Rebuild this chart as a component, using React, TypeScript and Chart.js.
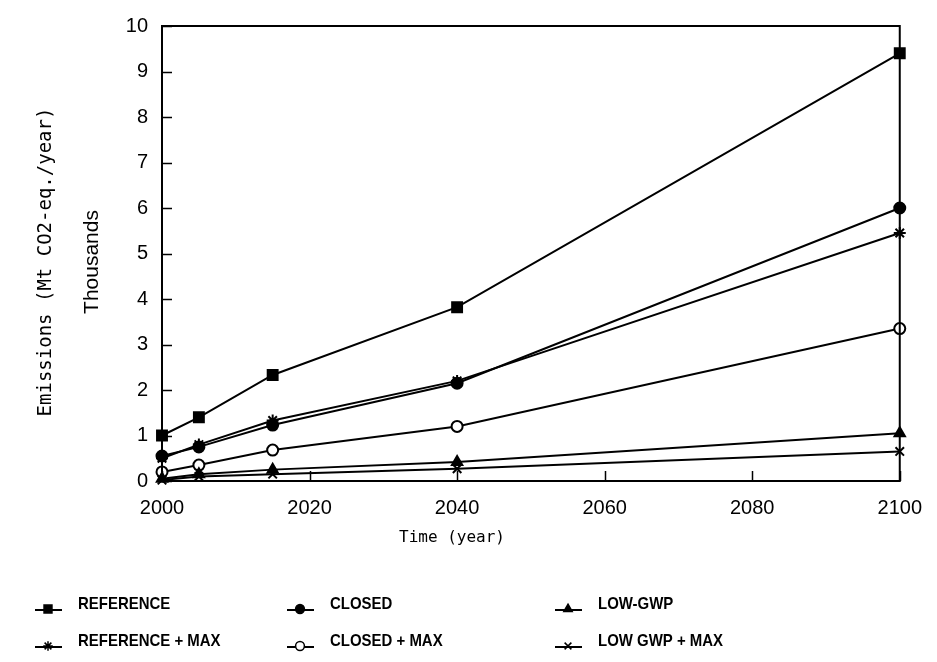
import React, { useEffect, useRef } from 'react';
import { Chart, registerables } from 'chart.js';
import { drawPoint } from 'chart.js/helpers';

Chart.register(...registerables);

const years = [2000, 2005, 2015, 2040, 2100];
const reference = [1.0, 1.4, 2.33, 3.82, 9.4];
const closed = [0.55, 0.75, 1.23, 2.15, 6.0];
const lowGwp = [0.05, 0.15, 0.25, 0.42, 1.05];
const referenceMax = [0.5, 0.8, 1.33, 2.2, 5.45];
const closedMax = [0.2, 0.35, 0.68, 1.2, 3.35];
const lowGwpMax = [0.02, 0.1, 0.15, 0.27, 0.65];

const seriesLabels = ['REFERENCE', 'CLOSED', 'LOW-GWP', 'REFERENCE + MAX', 'CLOSED + MAX', 'LOW GWP + MAX'];
const seriesValues = [reference, closed, lowGwp, referenceMax, closedMax, lowGwpMax];
const seriesStyles = ['rect', 'circle', 'triangle', 'star', 'circle', 'crossRot'];
const seriesFill = ['#000', '#000', '#000', '#000', '#fff', '#000'];
const seriesRadius = [7, 5.5, 6, 6, 5.5, 6];

const yTitle = 'Emissions (Mt CO2-eq./year)';
const yTitle2 = 'Thousands';
const xTitle = 'Time (year)';

const framePlugin = {
  id: 'frameAndLegend',
  afterDraw(chart: any) {
    const { ctx, chartArea: a, scales } = chart;
    const x = scales.x;
    const y = scales.y;
    ctx.save();
    ctx.strokeStyle = '#000';
    ctx.lineWidth = 2;
    ctx.strokeRect(a.left, a.top, a.right - a.left, a.bottom - a.top);
    ctx.beginPath();
    y.ticks.forEach((t: any) => {
      const py = Math.round(y.getPixelForValue(t.value)) + 0.5;
      ctx.moveTo(a.left, py);
      ctx.lineTo(a.left + 10, py);
    });
    x.ticks.forEach((t: any) => {
      const px = Math.round(x.getPixelForValue(t.value)) + 0.5;
      ctx.moveTo(px, a.bottom);
      ctx.lineTo(px, a.bottom - 10);
    });
    ctx.lineWidth = 1.5;
    ctx.stroke();

    // axis titles
    ctx.fillStyle = '#000';
    ctx.textAlign = 'center';
    ctx.textBaseline = 'middle';
    ctx.font = '16px "DejaVu Sans Mono"';
    ctx.fillText(xTitle, 452, 538);
    ctx.save();
    ctx.translate(46, 262);
    ctx.rotate(-Math.PI / 2);
    ctx.font = '19px "DejaVu Sans Mono"';
    ctx.fillText(yTitle, 0, 0);
    ctx.restore();
    ctx.save();
    ctx.translate(92, 262);
    ctx.rotate(-Math.PI / 2);
    ctx.font = '21px "Liberation Sans"';
    ctx.fillText(yTitle2, 0, 0);
    ctx.restore();

    // legend
    const colX = [35, 287, 555];
    const rowY = [606, 643];
    chart.data.datasets.forEach((ds: any, i: number) => {
      const cx = colX[i % 3];
      const cy = rowY[Math.floor(i / 3)];
      ctx.strokeStyle = '#000';
      ctx.lineWidth = 2;
      ctx.beginPath();
      ctx.moveTo(cx, cy + 4);
      ctx.lineTo(cx + 27, cy + 4);
      ctx.stroke();
      ctx.fillStyle = ds.pointBackgroundColor;
      ctx.strokeStyle = '#000';
      ctx.lineWidth = 1.5;
      drawPoint(ctx, { pointStyle: ds.pointStyle, radius: ds.pointRadius * 0.8, borderWidth: 1.5, rotation: 0 }, cx + 13, cy + 3);
      ctx.fillStyle = '#000';
      ctx.textAlign = 'left';
      ctx.textBaseline = 'middle';
      ctx.font = 'bold 17px "Liberation Sans"';
      ctx.save();
      ctx.translate(cx + 43, cy - 2);
      ctx.scale(0.88, 1);
      ctx.fillText(ds.label, 0, 0);
      ctx.restore();
    });
    ctx.restore();
  },
};

export default function App() {
  const canvasRef = useRef<HTMLCanvasElement | null>(null);

  useEffect(() => {
    const canvas = canvasRef.current;
    if (!canvas) return;
    const datasets = seriesLabels.map((label, i) => ({
      label,
      data: years.map((yr, j) => ({ x: yr, y: seriesValues[i][j] })),
      borderColor: '#000',
      borderWidth: 2,
      pointStyle: seriesStyles[i],
      pointRadius: seriesRadius[i],
      pointBackgroundColor: seriesFill[i],
      pointBorderColor: '#000',
      pointBorderWidth: 2,
      fill: false,
      tension: 0,
      clip: false as any,
    }));
    const chart = new Chart(canvas, {
      type: 'line',
      data: { datasets },
      plugins: [framePlugin],
      options: {
        animation: false,
        responsive: false,
        devicePixelRatio: 1,
        layout: { padding: { left: 0, right: 31, top: 22, bottom: 0 } },
        plugins: { legend: { display: false }, tooltip: { enabled: false }, title: { display: false } },
        scales: {
          x: {
            type: 'linear',
            min: 2000,
            max: 2100,
            grid: { display: false, drawTicks: false },
            border: { display: false },
            ticks: {
              stepSize: 20,
              padding: 15,
              color: '#000',
              font: { family: 'Liberation Sans', size: 20 },
              callback: (v: any) => String(v),
              maxRotation: 0,
            },
            afterFit: (s: any) => { s.height = 181; },
          },
          y: {
            min: 0,
            max: 10,
            grid: { display: false, drawTicks: false },
            border: { display: false },
            ticks: {
              stepSize: 1,
              padding: 14,
              color: '#000',
              font: { family: 'Liberation Sans', size: 20 },
            },
            afterFit: (s: any) => { s.width = 162; },
          },
        },
      },
    });
    return () => chart.destroy();
  }, []);

  return (
    <div style={{ position: 'fixed', left: 0, top: 0, width: 937, height: 662, background: '#fff' }}>
      <canvas ref={canvasRef} width={937} height={662} style={{ width: 937, height: 662 }} />
    </div>
  );
}
